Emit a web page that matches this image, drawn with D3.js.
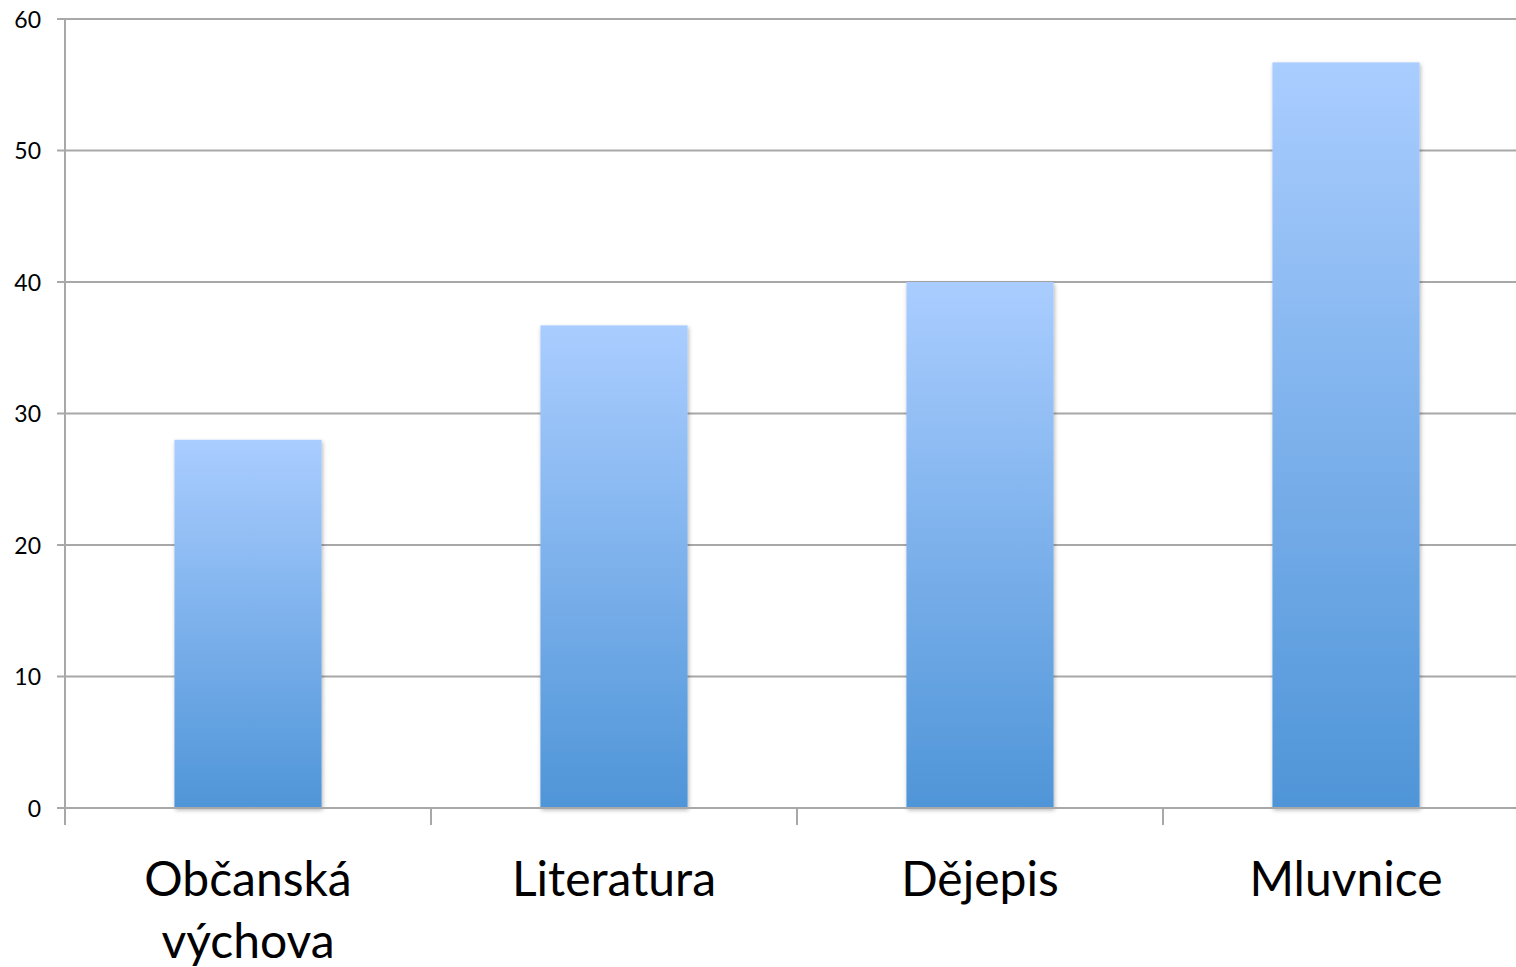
<!DOCTYPE html>
<html lang="cs">
<head>
  <meta charset="UTF-8">
  <title>Předměty</title>
  <script src="https://d3js.org/d3.v7.min.js"></script>
  <style>
    body { margin: 0; background: #fff; overflow: hidden; }
    svg { display: block; font-family: Lato, "Open Sans", sans-serif; }
    .grid line { stroke: #a8a8a8; stroke-width: 2px; }
    .tick-y { font-size: 23px; fill: #000; }
    .tick-x { font-size: 48px; fill: #000; }
  </style>
</head>
<body>
  <svg></svg>
  <script>
    // data
    const categories = [["Občanská", "výchova"], ["Literatura"], ["Dějepis"], ["Mluvnice"]];
    const values = [28, 36.7, 40, 56.7];
    const yTicks = [0, 10, 20, 30, 40, 50, 60];

    const W = 1516, H = 967;
    const left = 65, zeroY = 808, topY = 19;
    const svg = d3.select('svg').attr('width', W).attr('height', H);

    const x = d3.scaleBand().domain(d3.range(categories.length)).range([left, left + 366 * 4]).padding(0);
    const y = d3.scaleLinear().domain([0, 60]).range([zeroY, topY]);

    const defs = svg.append('defs');
    const grad = defs.append('linearGradient').attr('id', 'barGrad')
      .attr('x1', 0).attr('y1', 0).attr('x2', 0).attr('y2', 1);
    grad.append('stop').attr('offset', '0%').attr('stop-color', '#aacdff');
    grad.append('stop').attr('offset', '100%').attr('stop-color', '#4f95d8');
    const sh = defs.append('filter').attr('id', 'shadow')
      .attr('x', '-10%').attr('y', '-10%').attr('width', '120%').attr('height', '120%');
    sh.append('feDropShadow').attr('dx', 1).attr('dy', 2).attr('stdDeviation', 2)
      .attr('flood-color', '#000').attr('flood-opacity', 0.3);

    // gridlines + y ticks
    const grid = svg.append('g').attr('class', 'grid');
    grid.selectAll('line.h').data(yTicks).join('line').attr('class', 'h')
      .attr('x1', left - 8).attr('x2', W)
      .attr('y1', d => y(d)).attr('y2', d => y(d));
    grid.append('line').attr('x1', left).attr('x2', left).attr('y1', topY).attr('y2', zeroY + 17);
    grid.selectAll('line.xt').data(d3.range(1, categories.length)).join('line').attr('class', 'xt')
      .attr('x1', d => x(d)).attr('x2', d => x(d)).attr('y1', zeroY).attr('y2', zeroY + 17);

    svg.append('g').selectAll('text').data(yTicks).join('text')
      .attr('class', 'tick-y')
      .attr('x', 41).attr('y', d => y(d)).attr('dy', '0.38em')
      .attr('text-anchor', 'end')
      .text(d => d);

    // bars
    const bw = x.bandwidth() * 0.402;
    svg.append('g').selectAll('rect').data(values).join('rect')
      .attr('x', (d, i) => x(i) + (x.bandwidth() - bw) / 2)
      .attr('y', d => y(d))
      .attr('width', bw)
      .attr('height', d => y(0) - y(d))
      .attr('fill', 'url(#barGrad)')
      .attr('filter', 'url(#shadow)');

    // baseline over bars
    svg.append('line').attr('x1', left - 8).attr('x2', W)
      .attr('y1', zeroY).attr('y2', zeroY)
      .attr('stroke', '#a8a8a8').attr('stroke-width', 2);

    // category labels
    const lab = svg.append('g').selectAll('text').data(categories).join('text')
      .attr('class', 'tick-x')
      .attr('text-anchor', 'middle')
      .attr('x', (d, i) => x(i) + x.bandwidth() / 2)
      .attr('y', 896);
    lab.selectAll('tspan').data(d => d).join('tspan')
      .attr('x', function () { return d3.select(this.parentNode).attr('x'); })
      .attr('dy', (d, i) => i ? 62 : 0)
      .text(d => d);
  </script>
</body>
</html>
